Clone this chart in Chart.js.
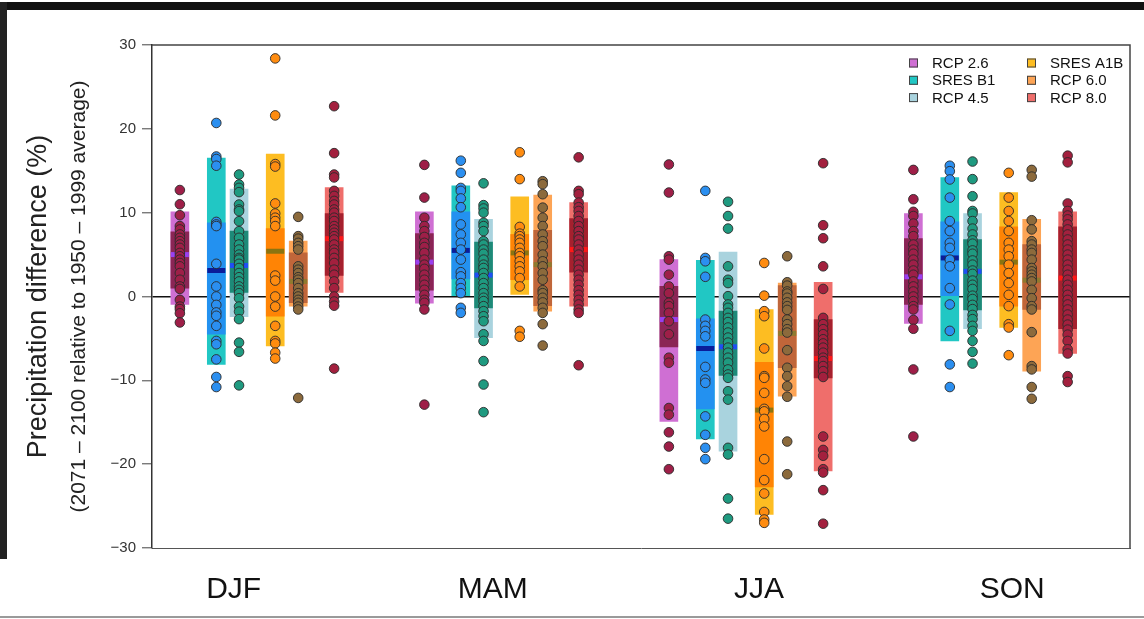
<!DOCTYPE html>
<html>
<head>
<meta charset="utf-8">
<title>Precipitation difference</title>
<script src="https://cdn.jsdelivr.net/npm/chart.js@4.4.1/dist/chart.umd.min.js"></script>
<style>
  body { margin: 0; background: #fff; }
  #wrap { position: relative; width: 1144px; height: 619px; overflow: hidden; background: #fff; }
  #topBar { position: absolute; left: 0; top: 2px; width: 1144px; height: 8px; background: #111; }
  #leftBar { position: absolute; left: 0; top: 2px; width: 7px; height: 557px; background: #222; }
  #bottomLine { position: absolute; left: 0; top: 616px; width: 1144px; height: 2px; background: #9a9a9a; }
</style>
</head>
<body>
<div id="wrap">
  <canvas id="grafico"></canvas>
  <div id="topBar"></div>
  <div id="leftBar"></div>
  <div id="bottomLine"></div>
</div>
<script>
//Datos del grafico
const estaciones = ['DJF', 'MAM', 'JJA', 'SON'];
const escenarios = ['RCP 2.6', 'SRES B1', 'RCP 4.5', 'SRES A1B', 'RCP 6.0', 'RCP 8.0'];
const ticksY = [-30, -20, -10, 0, 10, 20, 30];

// rango completo [min, max] por estacion (DJF, MAM, JJA, SON)
const rcp26Rango = [[-0.95, 10.1], [-0.8, 10.1], [-14.9, 4.4], [-3.2, 9.9]];
const b1Rango = [[-8.1, 16.5], [0.0, 13.2], [-17.0, 4.3], [-5.3, 14.2]];
const rcp45Rango = [[-2.4, 12.8], [-4.9, 9.2], [-18.45, 5.3], [-3.85, 9.9]];
const a1bRango = [[-5.9, 17.0], [0.24, 11.9], [-26.0, -1.55], [-3.7, 12.4]];
const rcp60Rango = [[-1.15, 6.6], [-1.75, 12.1], [-11.9, 1.6], [-8.9, 9.2]];
const rcp80Rango = [[0.5, 13.0], [-1.15, 11.2], [-20.8, 1.7], [-6.8, 10.1]];

// rango central (caja oscura)
const rcp26Caja = [[1.0, 7.7], [0.75, 7.5], [-6.0, 1.2], [-0.95, 6.9]];
const b1Caja = [[-4.5, 8.8], [2.1, 10.1], [-13.4, -2.65], [0.0, 8.9]];
const rcp45Caja = [[0.5, 7.8], [-1.35, 6.5], [-9.4, -1.75], [-1.6, 6.8]];
const a1bCaja = [[-2.35, 8.1], [2.0, 7.4], [-22.7, -7.85], [-1.15, 8.3]];
const rcp60Caja = [[-0.75, 5.2], [-1.1, 7.9], [-8.5, 1.3], [-1.55, 6.2]];
const rcp80Caja = [[2.5, 9.9], [2.9, 9.3], [-9.7, -2.75], [-3.85, 8.3]];

// medianas
const rcp26Mediana = [5.0, 4.1, -2.75, 2.35];
const b1Mediana = [3.1, 5.5, -6.2, 4.6];
const rcp45Mediana = [3.7, 2.55, -6.0, 3.0];
const a1bMediana = [5.4, 5.2, -13.55, 4.1];
const rcp60Mediana = [1.8, 3.8, -4.4, 1.95];
const rcp80Mediana = [6.9, 5.6, -7.4, 2.2];

// modelos individuales
const rcp26Puntos = [
  [12.7, 11.0, 9.7, 8.4, 8.0, 7.4, 7.0, 6.6, 6.2, 5.8, 5.2, 4.8, 4.4, 4.0, 3.6, 2.8, 2.0, 1.2, 0.9, -0.4, -1.2, -1.5, -2.0, -3.1],
  [15.7, 11.8, 9.4, 8.4, 7.8, 7.1, 6.4, 5.9, 5.2, 4.4, 3.8, 3.3, 2.6, 2.0, 1.4, 0.8, 0.2, -0.4, -0.75, -1.55, -12.9],
  [15.75, 12.4, 4.8, 4.4, 2.6, 1.2, 0.4, -0.75, -1.15, -1.95, -2.95, -4.5, -7.3, -7.9, -13.3, -14.1, -16.2, -17.9, -20.6],
  [15.1, 11.6, 10.1, 9.6, 8.7, 7.8, 7.2, 6.2, 5.6, 5.1, 4.4, 3.8, 3.1, 2.6, 1.8, 1.2, 0.6, 0.0, -0.55, -1.15, -1.55, -2.8, -3.85, -8.7, -16.7]
];
const b1Puntos = [
  [20.7, 16.7, 16.4, 15.6, 8.9, 8.6, 8.4, 3.9, 1.2, 0.0, -1.0, -1.9, -2.3, -3.5, -5.3, -5.7, -7.5, -9.6, -10.8],
  [16.2, 14.75, 12.95, 12.6, 11.7, 10.65, 8.6, 7.4, 6.4, 5.6, 4.4, 2.9, 2.4, 1.6, 1.0, 0.4, -1.35, -1.95],
  [12.6, 4.6, 4.2, 2.35, -2.75, -3.5, -4.1, -4.75, -8.4, -9.9, -10.3, -14.3, -16.5, -18.05, -19.4],
  [15.6, 14.95, 13.96, 11.8, 9.0, 7.8, 6.4, 5.8, 4.4, 3.6, 1.0, -0.95, -4.1, -8.1, -10.8]
];
const rcp45Puntos = [
  [14.55, 13.36, 12.96, 12.45, 10.97, 10.38, 10.18, 8.98, 7.79, 7.0, 6.2, 5.6, 5.0, 4.6, 4.4, 3.9, 3.4, 2.8, 2.3, 1.8, 1.2, 0.8, 0.4, -0.2, -1.2, -1.8, -2.7, -5.5, -6.6, -10.6],
  [13.5, 10.9, 10.5, 10.0, 8.8, 8.4, 7.8, 6.6, 6.2, 5.6, 5.1, 4.4, 3.8, 3.4, 2.8, 2.2, 1.6, 1.0, 0.4, -0.15, -0.55, -1.15, -1.75, -2.35, -2.95, -4.5, -5.3, -7.7, -10.5, -13.8],
  [11.3, 9.6, 8.1, 3.6, 2.0, 1.6, 0.04, -0.95, -1.35, -1.95, -2.55, -3.05, -3.7, -4.3, -4.9, -5.5, -6.1, -6.7, -7.3, -7.9, -8.7, -9.3, -9.7, -11.3, -12.3, -18.05, -18.85, -24.1, -26.5],
  [16.1, 14.0, 11.96, 10.2, 9.9, 9.0, 8.1, 7.4, 6.7, 6.3, 5.5, 5.1, 4.3, 3.8, 3.1, 2.7, 1.9, 1.4, 0.9, 0.1, -0.3, -1.0, -1.5, -2.2, -2.7, -3.5, -4.1, -5.3, -6.6, -8.0]
];
const a1bPuntos = [
  [28.4, 21.6, 15.8, 15.5, 11.1, 9.9, 9.4, 9.0, 8.4, 2.5, 1.9, 0.0, -1.2, -3.5, -5.3, -5.6, -6.7, -7.4],
  [17.2, 14.0, 8.3, 7.5, 7.2, 6.8, 6.4, 5.8, 5.2, 4.8, 4.2, 3.6, 3.0, 2.2, 1.2, -4.1, -4.8],
  [4.0, 0.1, -1.75, -2.35, -6.2, -9.5, -9.7, -11.5, -13.4, -13.7, -14.6, -15.5, -19.4, -21.9, -23.5, -25.7, -26.6, -27.0],
  [14.75, 11.8, 10.2, 9.0, 7.8, 6.4, 5.6, 4.8, 3.8, 2.8, 1.6, 0.2, -1.15, -3.3, -3.7, -7.0]
];
const rcp60Puntos = [
  [9.5, 7.2, 6.9, 6.4, 6.0, 5.6, 3.6, 3.2, 2.8, 2.3, 2.0, 1.6, 1.0, 0.4, 0.0, -0.4, -0.75, -1.2, -1.55, -12.1],
  [13.75, 13.4, 12.2, 10.6, 9.4, 8.4, 7.4, 6.6, 6.0, 5.0, 4.2, 3.6, 2.8, 2.0, 0.75, 0.4, -0.15, -0.7, -1.35, -1.95, -3.3, -5.85],
  [4.8, 1.7, 1.3, 0.6, 0.35, -0.15, -0.7, -1.15, -1.6, -2.75, -3.3, -3.9, -4.3, -6.4, -8.5, -9.5, -10.7, -11.96, -17.3, -21.2],
  [15.1, 14.3, 9.1, 8.0, 6.6, 6.2, 5.6, 5.2, 4.4, 3.4, 3.0, 2.6, 2.2, 1.8, 0.8, -0.2, -1.15, -1.55, -4.25, -8.3, -8.7, -10.8, -12.2]
];
const rcp80Puntos = [
  [22.7, 17.1, 14.55, 14.2, 12.6, 12.0, 11.4, 10.97, 10.38, 10.0, 9.4, 9.0, 8.4, 8.0, 7.6, 7.2, 6.8, 6.2, 5.6, 5.2, 4.6, 4.0, 3.2, 2.6, 1.8, 1.0, 0.0, -0.6, -1.1, -8.6],
  [16.6, 12.6, 12.2, 11.2, 10.65, 10.2, 9.6, 9.0, 8.4, 7.8, 7.2, 6.8, 6.2, 5.6, 5.0, 4.4, 3.8, 3.2, 2.6, 2.0, 1.4, 0.75, 0.2, -0.4, -0.95, -1.55, -1.95, -8.2],
  [15.9, 8.5, 6.95, 3.6, 0.9, -2.55, -3.3, -3.9, -4.5, -5.1, -5.6, -6.1, -6.7, -7.3, -7.7, -8.3, -8.9, -9.6, -16.7, -18.3, -19.0, -20.6, -21.0, -23.1, -27.1],
  [16.8, 16.0, 11.1, 10.2, 9.66, 9.2, 8.6, 8.0, 7.4, 6.8, 6.2, 5.6, 5.0, 4.4, 3.8, 3.2, 2.6, 2.0, 1.4, 0.8, 0.2, -0.4, -0.95, -1.55, -2.15, -2.75, -3.35, -3.95, -4.55, -5.3, -6.3, -6.8, -9.5, -10.2]
];
//Datos del grafico

// estilos
const coloresFuera = ['#cf6fd3', '#21c7c4', '#a9d3de', '#fdbd22', '#fda455', '#ef6e6b'];
const coloresCaja = ['#8b2555', '#2391f0', '#1d8a78', '#ff8405', '#c0663a', '#a5202e'];
const coloresMediana = ['#9a40f0', '#0a1c9a', '#1f4ff5', '#8a7410', '#8f7a2f', '#ff1818'];
const coloresPunto = ['#9e1f48', '#2b8ff0', '#1f9a80', '#ff8c10', '#8c6a3c', '#a3203e'];
// posicion de cada escenario dentro de la estacion (unidades del eje x)
const posicion = [0.114, 0.263, 0.356, 0.504, 0.598, 0.745];
const posEtiquetas = [0.334, 1.394, 2.483, 3.518];

const rangos = [rcp26Rango, b1Rango, rcp45Rango, a1bRango, rcp60Rango, rcp80Rango];
const cajas = [rcp26Caja, b1Caja, rcp45Caja, a1bCaja, rcp60Caja, rcp80Caja];
const medianas = [rcp26Mediana, b1Mediana, rcp45Mediana, a1bMediana, rcp60Mediana, rcp80Mediana];
const puntos = [rcp26Puntos, b1Puntos, rcp45Puntos, a1bPuntos, rcp60Puntos, rcp80Puntos];

const fuente = '"Liberation Sans", Arial, sans-serif';
Chart.defaults.font.family = fuente;

let datasets = [];
escenarios.forEach((nombre, i) => {
  datasets.push({
    type: 'bar',
    label: nombre,
    data: estaciones.map((e, g) => ({ x: g + posicion[i], y: rangos[i][g] })),
    backgroundColor: coloresFuera[i],
    barThickness: 18,
    grouped: false,
    order: 3
  });
  datasets.push({
    type: 'bar',
    label: nombre + ' caja',
    data: estaciones.map((e, g) => ({ x: g + posicion[i], y: cajas[i][g] })),
    backgroundColor: coloresCaja[i],
    barThickness: 18,
    grouped: false,
    order: 2
  });
  datasets.push({
    type: 'scatter',
    label: nombre + ' mediana',
    data: estaciones.map((e, g) => ({ x: g + posicion[i], y: medianas[i][g] })),
    pointStyle: 'line',
    pointRadius: 9,
    pointBorderWidth: 5,
    pointBorderColor: coloresMediana[i],
    order: 1
  });
  let modelos = [];
  estaciones.forEach((e, g) => {
    puntos[i][g].forEach(v => modelos.push({ x: g + posicion[i], y: v }));
  });
  datasets.push({
    type: 'scatter',
    label: nombre + ' modelos',
    data: modelos,
    pointRadius: 4.8,
    pointBackgroundColor: coloresPunto[i],
    pointBorderColor: '#2a2a2a',
    pointBorderWidth: 0.9,
    order: 0
  });
});

// marco de arriba y derecha
const marco = {
  id: 'marco',
  beforeDatasetsDraw(chart) {
    const ctx = chart.ctx;
    const a = chart.chartArea;
    ctx.save();
    ctx.strokeStyle = '#444';
    ctx.lineWidth = 1.5;
    ctx.beginPath();
    ctx.moveTo(a.left, a.top);
    ctx.lineTo(a.right, a.top);
    ctx.lineTo(a.right, a.bottom);
    ctx.stroke();
    ctx.restore();
  }
};

// leyenda en dos columnas
const leyenda = {
  id: 'leyenda',
  afterDraw(chart) {
    const ctx = chart.ctx;
    ctx.save();
    ctx.font = '15px ' + fuente;
    ctx.textBaseline = 'middle';
    escenarios.forEach((nombre, i) => {
      const x = 909 + (i < 3 ? 0 : 118);
      const y = 63 + (i % 3) * 17.3;
      ctx.fillStyle = coloresFuera[i];
      ctx.fillRect(x, y - 4.5, 9, 9);
      ctx.strokeStyle = '#444';
      ctx.lineWidth = 1;
      ctx.strokeRect(x + 0.5, y - 4, 8, 8);
      ctx.fillStyle = '#111';
      ctx.fillText(nombre, x + 23, y + 1);
    });
    ctx.restore();
  }
};

const ctx = document.getElementById('grafico').getContext('2d');
new Chart(ctx, {
  type: 'bar',
  data: { datasets: datasets },
  plugins: [marco, leyenda],
  options: {
    responsive: true,
    maintainAspectRatio: false,
    animation: false,
    events: [],
    layout: { padding: { top: 45, right: 11, left: 0, bottom: 0 } },
    plugins: {
      legend: { display: false },
      tooltip: { enabled: false }
    },
    scales: {
      x: {
        type: 'linear',
        min: 0,
        max: 4,
        offset: false,
        afterBuildTicks: s => { s.ticks = posEtiquetas.map(v => ({ value: v })); },
        ticks: {
          callback: (v, i) => estaciones[i],
          font: { size: 30 },
          color: '#111',
          padding: 24,
          autoSkip: false,
          maxRotation: 0
        },
        grid: { display: false, drawTicks: false },
        border: { display: true, color: '#555', width: 1, dash: [4, 2] },
        afterFit: s => { s.height = 71; }
      },
      y: {
        type: 'linear',
        position: 'left',
        min: -30,
        max: 30,
        weight: 0,
        z: 1,
        afterBuildTicks: s => { s.ticks = ticksY.map(v => ({ value: v })); },
        ticks: {
          font: { size: 15 },
          color: '#333',
          padding: 6,
          callback: v => v < 0 ? '\u2212' + Math.abs(v) : String(v)
        },
        grid: {
          color: c => (c.tick && c.tick.value === 0) ? '#111' : 'rgba(0,0,0,0)',
          lineWidth: 1.6,
          drawTicks: true,
          tickLength: 10,
          tickColor: '#444',
          tickWidth: 1
        },
        border: { display: true, color: '#333', width: 1.5 },
        title: {
          display: true,
          text: '(2071 \u2013 2100 relative to 1950 \u2013 1999 average)',
          font: { size: 21 },
          color: '#222',
          padding: { top: 7, bottom: 0 }
        },
        afterFit: s => { s.width = 92; }
      },
      y2: {
        type: 'linear',
        position: 'left',
        weight: 1,
        ticks: { display: false },
        grid: { display: false, drawTicks: false },
        border: { display: false },
        title: {
          display: true,
          text: 'Precipitation difference (%)',
          font: { size: 27 },
          color: '#222',
          padding: { top: 22, bottom: 0 }
        },
        afterFit: s => { s.width = 60; }
      }
    }
  }
});
</script>
</body>
</html>
